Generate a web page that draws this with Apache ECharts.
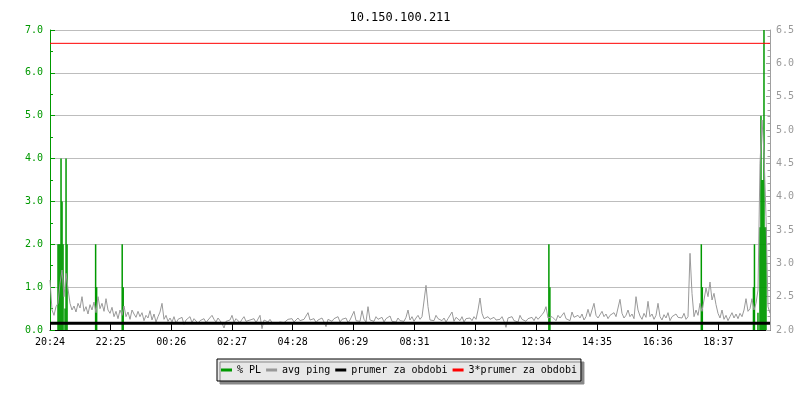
<!DOCTYPE html>
<html>
<head>
<meta charset="utf-8">
<script src="https://cdn.jsdelivr.net/npm/echarts@6/dist/echarts.min.js"></script>
<style>html,body{margin:0;padding:0;background:#fff}#c{width:800px;height:400px}</style>
</head>
<body>
<div id="c"></div>
<script>
const titleText = '10.150.100.211';
const timeLabels = ['20:24','22:25','00:26','02:27','04:28','06:29','08:31','10:32','12:34','14:35','16:36','18:37'];
const tickMinutes = [0,121,242,363,484,605,727,848,970,1091,1212,1333];
const spanMinutes = 1436;

// avg ping (right axis), evenly sampled over the span
const avgPing = [
2.75,2.3,2.22,2.35,2.4,2.7,2.9,2.5,2.85,2.62,2.4,2.3,2.36,2.27,2.4,
2.33,2.5,2.28,2.35,2.24,2.38,2.3,2.42,2.26,2.5,2.32,2.4,2.28,2.47,2.3,
2.25,2.34,2.2,2.28,2.17,2.3,2.22,2.36,2.2,2.27,2.16,2.3,2.24,2.19,2.28,
2.2,2.26,2.14,2.22,2.18,2.29,2.15,2.24,2.12,2.2,2.27,2.4,2.16,2.22,2.13,
2.18,2.12,2.2,2.1,2.16,2.13,2.19,2.08,2.15,2.12,2.2,2.11,2.17,2.14,2.1,
2.14,2.12,2.17,2.11,2.15,2.13,2.22,2.16,2.12,2.18,2.14,2.1,2.03,2.13,2.16,
2.15,2.22,2.12,2.17,2.14,2.11,2.16,2.2,2.13,2.1,2.15,2.12,2.17,2.11,2.14,
2.22,2.02,2.15,2.18,2.12,2.16,2.11,2.14,2.1,2.13,2.12,2.15,2.11,2.14,2.16,
2.13,2.17,2.12,2.15,2.18,2.14,2.12,2.16,2.19,2.26,2.15,2.13,2.17,2.11,2.15,
2.14,2.18,2.12,2.05,2.16,2.19,2.13,2.17,2.14,2.2,2.12,2.16,2.13,2.18,2.11,
2.15,2.12,2.28,2.14,2.17,2.13,2.29,2.16,2.12,2.35,2.15,2.18,2.13,2.2,2.16,
2.14,2.19,2.12,2.17,2.15,2.21,2.13,2.16,2.12,2.18,2.14,2.17,2.13,2.19,2.3,
2.15,2.2,2.13,2.18,2.22,2.16,2.2,2.17,2.67,2.35,2.15,2.18,2.14,2.22,2.17,
2.2,2.14,2.18,2.12,2.17,2.15,2.27,2.13,2.19,2.16,2.14,2.2,2.12,2.17,2.15,
2.18,2.14,2.2,2.16,2.3,2.48,2.25,2.17,2.14,2.2,2.16,2.13,2.19,2.15,2.18,
2.16,2.2,2.13,2.04,2.18,2.15,2.2,2.14,2.17,2.12,2.22,2.16,2.19,2.13,2.17,
2.15,2.19,2.14,2.2,2.16,2.18,2.23,2.27,2.35,2.18,2.15,2.2,2.17,2.14,2.22,
2.18,2.15,2.26,2.17,2.2,2.14,2.27,2.19,2.16,2.22,2.18,2.24,2.15,2.2,2.31,
2.2,2.17,2.4,2.22,2.18,2.16,2.28,2.2,2.24,2.17,2.22,2.19,2.26,2.2,2.23,
2.46,2.25,2.18,2.22,2.3,2.2,2.24,2.17,2.5,2.3,2.21,2.16,2.25,2.19,2.43,
2.2,2.24,2.16,2.22,2.4,2.2,2.15,2.23,2.18,2.26,2.14,2.2,2.17,2.24,2.19,
2.22,2.18,2.25,2.16,2.2,3.15,2.55,2.2,2.3,2.22,2.4,2.28,2.45,2.63,2.5,
2.72,2.45,2.55,2.38,2.25,2.18,2.3,2.16,2.22,2.14,2.2,2.26,2.18,2.24,2.17,
2.25,2.2,2.3,2.47,2.28,2.32,2.47,2.3,2.4,2.6,4.5,5.15,4.65,3.7,2.35,2.25
];

// % PL (left axis): minute offsets and values
const plMinutes = [16,18,20,22,24,26,30,32,34,91,93,144,146,995,997,1299,1301,1403,1405,1412,1416,1418,1420,1422,1424,1426,1428];
const plValues  = [2.0,2.0,2.0,4.0,3.0,2.0,0.5,4.0,2.0,2.0,1.0,2.0,1.0,2.0,1.0,2.0,1.0,1.0,2.0,0.4,2.4,5.0,3.5,3.5,7.0,2.4,2.4];

const prumer = 2.1;
const prumer3 = 6.3;

const font = 'DejaVu Sans Mono';
const pingStep = spanMinutes / (avgPing.length - 1);
const pingData = avgPing.map((v, i) => [i * pingStep, v]);
const plData = plMinutes.map((m, i) => [m, plValues[i]]);

const chart = echarts.init(document.getElementById('c'));
chart.setOption({
  animation: false,
  backgroundColor: '#fff',
  title: {
    text: titleText, left: 'center', top: 7,
    textStyle: {fontFamily: font, fontSize: 12, fontWeight: 'normal', color: '#000'}
  },
  grid: {left: 50, right: 30, top: 30, bottom: 70, containLabel: false},
  legend: {
    left: 217, top: 359,
    itemWidth: 11, itemHeight: 3, itemGap: 5,
    padding: [6, 4],
    backgroundColor: '#e8e8e8', borderColor: '#000', borderWidth: 1,
    shadowColor: '#888', shadowOffsetX: 3, shadowOffsetY: 3, shadowBlur: 0,
    textStyle: {fontFamily: font, fontSize: 10, color: '#000'},
    data: [
      {name: '% PL', icon: 'rect'},
      {name: 'avg ping', icon: 'rect'},
      {name: 'prumer za obdobi', icon: 'rect'},
      {name: '3*prumer za obdobi', icon: 'rect'}
    ]
  },
  xAxis: {
    type: 'value', min: 0, max: spanMinutes,
    axisLine: {lineStyle: {color: '#000', width: 1}},
    axisTick: {inside: true, length: 6, lineStyle: {color: '#000'}, customValues: tickMinutes},
    axisLabel: {
      customValues: tickMinutes,
      fontFamily: font, fontSize: 10, color: '#000', margin: 7,
      formatter: v => { const k = tickMinutes.indexOf(v); return k >= 0 ? timeLabels[k] : ''; }
    },
    splitLine: {show: false}
  },
  yAxis: [
    {
      type: 'value', min: 0, max: 7, interval: 1, position: 'left',
      axisLine: {show: true, lineStyle: {color: '#009900'}},
      axisTick: {show: true, inside: true, length: 5, lineStyle: {color: '#009900'}},
      minorTick: {show: true, splitNumber: 2, length: 3, lineStyle: {color: '#009900'}},
      axisLabel: {fontFamily: font, fontSize: 10, color: '#009900', margin: 7, formatter: v => v.toFixed(1)},
      splitLine: {show: true, lineStyle: {color: '#bdbdbd', width: 1}}
    },
    {
      type: 'value', min: 2.0, max: 6.5, interval: 0.5, position: 'right',
      axisLine: {show: true, lineStyle: {color: '#a0a0a0'}},
      axisTick: {show: true, inside: true, length: 4, lineStyle: {color: '#a0a0a0'}},
      minorTick: {show: true, splitNumber: 5, length: 2.5, lineStyle: {color: '#a0a0a0'}},
      axisLabel: {fontFamily: font, fontSize: 10, color: '#999', margin: 6, formatter: v => v.toFixed(1)},
      splitLine: {show: false}
    }
  ],
  series: [
    {
      name: '% PL', type: 'bar', yAxisIndex: 0, data: plData,
      barWidth: 1.5, barGap: '-100%', itemStyle: {color: '#009900'}
    },
    {
      name: 'avg ping', type: 'line', yAxisIndex: 1, data: pingData,
      showSymbol: false, symbol: 'none', color: '#999',
      lineStyle: {color: '#999', width: 1}
    },
    {
      name: 'prumer za obdobi', type: 'line', yAxisIndex: 1,
      data: [[0, prumer], [spanMinutes, prumer]],
      showSymbol: false, symbol: 'none', color: '#000',
      lineStyle: {color: '#000', width: 3}
    },
    {
      name: '3*prumer za obdobi', type: 'line', yAxisIndex: 1,
      data: [[0, prumer3], [spanMinutes, prumer3]],
      showSymbol: false, symbol: 'none', color: '#ff0000',
      lineStyle: {color: '#ff0000', width: 1}
    }
  ]
});
</script>
</body>
</html>
